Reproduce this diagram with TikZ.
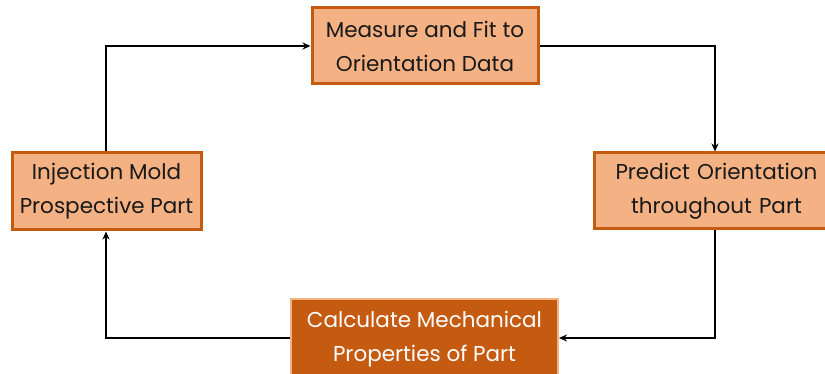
\documentclass[tikz,border=0pt]{standalone}
\usepackage{fontspec}
\setmainfont{Poppins}
\usetikzlibrary{arrows.meta}
\definecolor{lightor}{HTML}{F4B183}
\definecolor{darkor}{HTML}{C55A11}
\tikzset{
  lightbox/.style={draw=darkor, fill=lightor, line width=3pt, align=center, inner sep=0pt, font=\fontsize{21.5}{34}\selectfont, text=black!90},
  darkbox/.style={draw=lightor, fill=darkor, line width=2pt, align=center, inner sep=0pt, font=\fontsize{21.5}{34}\selectfont, text=white},
  conn/.style={line width=2pt, -{Stealth[length=8pt,width=7pt]}}
}
\begin{document}
\begin{tikzpicture}[x=1pt,y=-1pt]
\useasboundingbox (0,0) rectangle (825,374);
\clip (0,0) rectangle (825,374);
\node[lightbox, minimum width=226pt, minimum height=76pt] (measure) at (425,46) {Measure and Fit to\\Orientation Data};
\node[lightbox, minimum width=189pt, minimum height=77pt] (inject) at (106.5,191.5) {Injection Mold\\Prospective Part};
\node[lightbox, minimum width=244pt, minimum height=76pt, anchor=west, text width=244pt] (predict) at (593,191) {Predict Orientation\\throughout Part};
\node[darkbox, minimum width=267pt, minimum height=80pt, anchor=north] (calc) at (424.5,298) {Calculate Mechanical\\Properties of Part};
\coordinate (c1) at (106,46);
\coordinate (c2) at (715,46);
\coordinate (c3) at (715,338);
\coordinate (c4) at (106,338);
\draw[conn] (inject.north -| c1) -- (c1) -- (measure.west);
\draw[conn] (measure.east) -- (c2) -- (c2 |- predict.north);
\draw[conn] (c3 |- predict.south) -- (c3) -- (calc.east |- c3);
\draw[conn] (calc.west |- c4) -- (c4) -- (c4 |- inject.south);
\end{tikzpicture}
\end{document}
